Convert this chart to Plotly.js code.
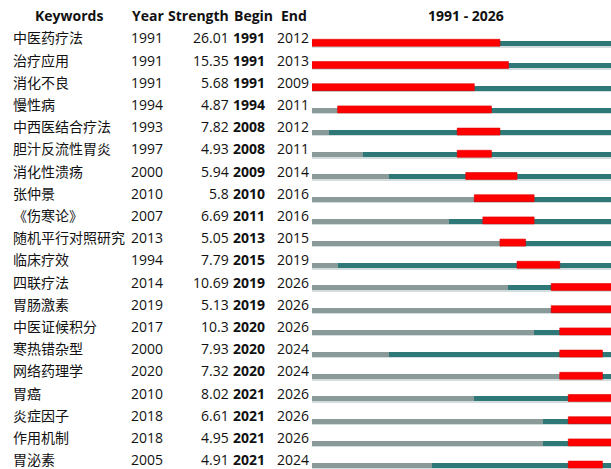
<!DOCTYPE html>
<html>
<head>
<meta charset="utf-8">
<script src="https://cdn.plot.ly/plotly-3.0.1.min.js"></script>
<style>html,body{margin:0;padding:0;background:#fff;}#chart{width:611px;height:469px;}</style>
</head>
<body>
<div id="chart"></div>
<script>
const keywords = ["中医药疗法","治疗应用","消化不良","慢性病","中西医结合疗法","胆汁反流性胃炎","消化性溃疡","张仲景","《伤寒论》","随机平行对照研究","临床疗效","四联疗法","胃肠激素","中医证候积分","寒热错杂型","网络药理学","胃癌","炎症因子","作用机制","胃泌素"];
const years = [1991,1991,1991,1994,1993,1997,2000,2010,2007,2013,1994,2014,2019,2017,2000,2020,2010,2018,2018,2005];
const strengths = ["26.01","15.35","5.68","4.87","7.82","4.93","5.94","5.8","6.69","5.05","7.79","10.69","5.13","10.3","7.93","7.32","8.02","6.61","4.95","4.91"];
const begins = [1991,1991,1991,1994,2008,2008,2009,2010,2011,2013,2015,2019,2019,2020,2020,2020,2021,2021,2021,2021];
const ends = [2012,2013,2009,2011,2012,2011,2014,2016,2016,2015,2019,2026,2026,2026,2024,2024,2026,2026,2026,2024];
const headers = ["Keywords","Year","Strength","Begin","End"];
const startYear = 1991, endYear = 2026;

const rows = keywords.map((_, i) => i);
const FONT = "Open Sans, Noto Sans CJK SC, sans-serif";

const grayTrace = {
  type: 'bar', orientation: 'h', xaxis: 'x2', yaxis: 'y',
  y: rows, base: rows.map(() => startYear), x: years.map(y => y - startYear),
  offset: 0.09, width: 0.225, marker: {color: '#8a9a99', line: {width: 0}},
  hoverinfo: 'skip', showlegend: false
};
const tealTrace = {
  type: 'bar', orientation: 'h', xaxis: 'x2', yaxis: 'y',
  y: rows, base: years, x: years.map(y => endYear + 1 - y),
  offset: 0.09, width: 0.225, marker: {color: '#2e7977', line: {width: 0}},
  hoverinfo: 'skip', showlegend: false
};
const shadowTrace = {
  type: 'bar', orientation: 'h', xaxis: 'x2', yaxis: 'y',
  y: rows, base: rows.map(() => startYear), x: rows.map(() => endYear + 1 - startYear),
  offset: 0.315, width: 0.06, marker: {color: '#d3dddd', line: {width: 0}},
  hoverinfo: 'skip', showlegend: false
};
const redTrace = {
  type: 'bar', orientation: 'h', xaxis: 'x2', yaxis: 'y',
  y: rows, base: begins, x: begins.map((b, i) => ends[i] + 1 - b),
  offset: 0, width: 0.315, marker: {color: '#ff0000', line: {width: 0.6, color: '#e00000'}},
  hoverinfo: 'skip', showlegend: false
};

const ann = [];
const base = {xref: 'x', yref: 'y', showarrow: false, borderpad: 0, font: {family: FONT, size: 14, color: '#111'}};
const ty = -0.06;
rows.forEach(i => {
  ann.push(Object.assign({}, base, {x: 12, y: i + ty, text: keywords[i], xanchor: 'left', yanchor: 'middle'}));
  ann.push(Object.assign({}, base, {x: 130, y: i + ty, text: String(years[i]), xanchor: 'left', yanchor: 'middle'}));
  ann.push(Object.assign({}, base, {x: 230, y: i + ty, text: strengths[i], xanchor: 'right', yanchor: 'middle'}));
  ann.push(Object.assign({}, base, {x: 232, y: i + ty, text: '<b>' + begins[i] + '</b>', xanchor: 'left', yanchor: 'middle'}));
  ann.push(Object.assign({}, base, {x: 276, y: i + ty, text: String(ends[i]), xanchor: 'left', yanchor: 'middle'}));
});
const hy = -1.063;
const hx = [69, 131, 167, 233, 280];
const hanchor = ['center', 'left', 'left', 'left', 'left'];
headers.forEach((h, k) => {
  ann.push(Object.assign({}, base, {x: hx[k], y: hy, text: '<b>' + h + '</b>', xanchor: hanchor[k], yanchor: 'middle'}));
});
ann.push(Object.assign({}, base, {xref: 'x2', x: 2009, y: hy, text: '<b>' + startYear + ' - ' + endYear + '</b>', xanchor: 'center', yanchor: 'middle'}));

const layout = {
  width: 611, height: 469,
  margin: {l: 0, r: 0, t: 0, b: 0, pad: 0},
  paper_bgcolor: '#fff', plot_bgcolor: '#fff',
  barmode: 'overlay', bargap: 0,
  xaxis: {domain: [0, 312/611], range: [0, 312], visible: false, fixedrange: true},
  xaxis2: {domain: [312/611, 1], range: [startYear, endYear], visible: false, fixedrange: true},
  yaxis: {range: [19.356, -1.770], visible: false, fixedrange: true},
  annotations: ann,
  font: {family: FONT}
};

Plotly.newPlot('chart', [grayTrace, tealTrace, shadowTrace, redTrace], layout, {staticPlot: true, displayModeBar: false});
</script>
</body>
</html>
